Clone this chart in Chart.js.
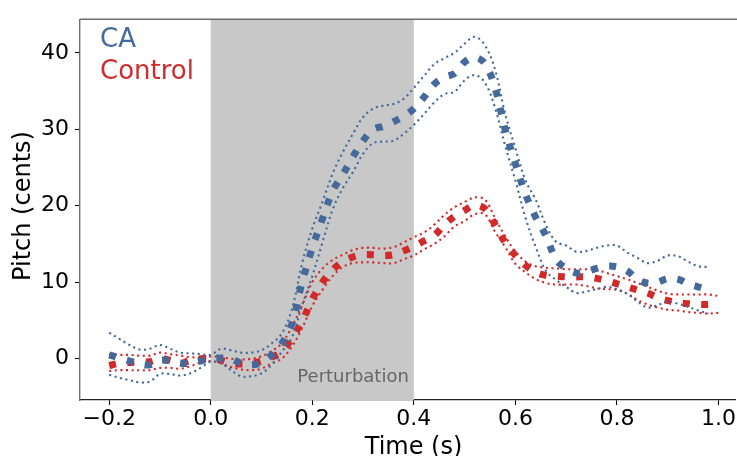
<!DOCTYPE html>
<html>
<head>
<meta charset="utf-8">
<script src="https://cdn.jsdelivr.net/npm/chart.js@4"></script>
<style>
  html, body { margin: 0; padding: 0; background: #fff; }
  canvas { display: block; }
</style>
</head>
<body>
<canvas id="pitchChart" width="737" height="456"></canvas>
<script>
// ========================================
// Pitch response to perturbation: CA vs Control
// ========================================

const times = [
  -0.20, -0.18, -0.16, -0.14, -0.12, -0.10, -0.08, -0.06, -0.04, -0.02,
   0.00,  0.02,  0.04,  0.06,  0.08,  0.10,  0.12,  0.14,  0.16,  0.18,
   0.20,  0.22,  0.24,  0.26,  0.28,  0.30,  0.32,  0.34,  0.36,  0.38,
   0.40,  0.42,  0.44,  0.46,  0.48,  0.50,  0.52,  0.54,  0.56,  0.58,
   0.60,  0.62,  0.64,  0.66,  0.68,  0.70,  0.72,  0.74,  0.76,  0.78,
   0.80,  0.82,  0.84,  0.86,  0.88,  0.90,  0.92,  0.94,  0.96,  0.98, 1.00
];

const caMean = [
   0.5,  0.1, -0.3, -0.7, -0.8, -0.2, -0.3, -0.6, -0.6, -0.3,
   0.0,  0.1,  0.0, -0.6, -0.8, -0.5,  0.5,  2.0,  4.6, 10.0,
  14.5, 18.3, 21.9, 24.1, 26.4, 28.5, 30.0, 30.4, 31.0, 31.7,
  32.7, 34.2, 35.9, 36.8, 37.3, 38.8, 39.4, 38.6, 35.4, 29.9,
  25.5, 21.5, 18.5, 16.1, 13.0, 11.8, 11.2, 11.4, 11.8, 12.1,
  12.0, 11.5, 10.4,  9.9, 10.0, 10.5, 10.4,  9.8,  9.4,  9.0, null
];
const caUpper = [
   3.4,  2.6,  1.8,  1.2,  1.3,  1.8,  1.3,  0.8,  0.7,  0.6,
   0.5,  1.3,  1.1,  0.8,  0.8,  1.1,  2.0,  3.3,  6.5, 12.5,
  17.0, 20.5, 24.2, 27.0, 29.4, 31.6, 32.7, 33.1, 33.3, 34.0,
  35.4, 37.0, 38.5, 39.3, 40.0, 41.2, 42.1, 41.0, 37.8, 32.0,
  27.5, 23.3, 20.8, 17.5, 15.3, 14.8, 14.0, 14.1, 14.5, 14.8,
  14.8, 13.9, 13.2, 12.5, 12.8, 13.5, 13.4, 12.7, 12.1, 12.0, null
];
const caLower = [
  -2.1, -2.5, -2.8, -3.1, -3.0, -2.0, -2.0, -2.2, -1.9, -1.2,
  -0.4, -0.6, -1.5, -2.3, -2.3, -1.9, -0.8,  0.9,  2.8,  7.0,
  10.8, 15.2, 19.5, 22.3, 24.4, 26.8, 28.2, 28.4, 28.5, 29.4,
  30.6, 32.0, 33.5, 34.6, 34.9, 36.4, 37.1, 36.1, 32.8, 27.8,
  23.3, 18.4, 14.6, 11.5, 10.3,  9.4,  8.6,  8.8,  9.1,  9.4,
   9.1,  8.5,  7.5,  6.7,  7.0,  7.5,  7.2,  6.8,  6.3,  5.9, null
];

const ctrlMean = [
  -0.9, -0.6, -0.5, -0.4, -0.4,  0.0, -0.2, -0.6, -0.2,  0.0,
   0.0, -0.2, -0.6, -0.7, -0.6, -0.3,  0.2,  0.9,  2.7,  4.9,
   7.8, 10.0, 11.6, 12.7, 13.3, 13.6, 13.6, 13.5, 13.6, 14.1,
  14.7, 15.4, 16.1, 17.5, 18.6, 19.4, 20.1, 19.6, 17.5, 15.2,
  13.5, 12.2, 11.3, 10.9, 10.8, 10.7, 10.7, 10.7, 10.5, 10.2,
   9.8,  9.4,  9.0,  8.6,  8.0,  7.6,  7.3,  7.2,  7.1,  7.1,  7.2
];
const ctrlUpper = [
   0.6,  0.5,  0.5,  0.4,  0.4,  0.8,  0.6,  0.4,  0.2,  0.2,
   0.3,  0.2,  0.0, -0.1,  0.0,  0.3,  1.0,  2.0,  4.2,  7.0,
  10.0, 11.8, 12.9, 13.6, 14.2, 14.5, 14.5, 14.4, 14.6, 15.2,
  15.9, 16.5, 17.5, 18.8, 19.8, 20.5, 21.1, 20.8, 18.4, 16.0,
  14.0, 12.7, 12.1, 11.9, 11.8, 11.7, 11.7, 11.7, 11.6, 11.2,
  10.8, 10.4,  9.9,  9.4,  8.9,  8.5,  8.4,  8.4,  8.4,  8.4,  8.2
];
const ctrlLower = [
  -1.6, -1.5, -1.5, -1.5, -1.5, -1.2, -1.2, -1.3, -1.0, -0.5,
  -0.3, -0.6, -1.1, -1.4, -1.5, -1.3, -0.6,  0.0,  1.6,  4.0,
   6.9,  9.0, 10.8, 12.0, 12.5, 12.6, 12.6, 12.5, 12.5, 13.0,
  13.5, 14.3, 15.0, 16.0, 17.3, 18.0, 18.9, 18.9, 16.6, 14.6,
  12.4, 11.3, 10.4,  9.9,  9.7,  9.7,  9.7,  9.5,  9.2,  9.1,
   9.0,  8.5,  7.7,  7.1,  6.7,  6.4,  6.3,  6.1,  6.0,  5.9,  6.0
];

const xTicks = [-0.2, 0.0, 0.2, 0.4, 0.6, 0.8, 1.0];
const yTicks = [0, 10, 20, 30, 40];
const perturbWindow = [0.0, 0.4];

const CA_COLOR = '#44699a';
const CTRL_COLOR = '#d12a2b';
const FONT = "'DejaVu Sans', sans-serif";

function pts(values) {
  return times.map((t, i) => ({ x: t, y: values[i] }));
}

function meanLine(label, values, color) {
  return {
    label, data: pts(values), borderColor: color, borderWidth: 7,
    borderDash: [7, 11.4], borderCapStyle: 'butt', pointRadius: 0,
    tension: 0.35, fill: false, spanGaps: false
  };
}

function boundLine(label, values, color) {
  return {
    label, data: pts(values), borderColor: color, borderWidth: 2.1,
    borderDash: [2.1, 3.5], borderCapStyle: 'butt', pointRadius: 0,
    tension: 0.35, fill: false, spanGaps: false
  };
}

// Shaded perturbation window + label, legend text, axis titles, top spine
const decorations = {
  id: 'decorations',
  beforeDatasetsDraw(chart) {
    const { ctx, chartArea: a, scales: { x } } = chart;
    const x0 = x.getPixelForValue(perturbWindow[0]);
    const x1 = x.getPixelForValue(perturbWindow[1]);
    ctx.save();
    ctx.fillStyle = '#c8c8c8';
    ctx.fillRect(x0, a.top, x1 - x0, a.bottom - a.top);
    ctx.fillStyle = '#666666';
    ctx.font = '18px ' + FONT;
    ctx.textAlign = 'right';
    ctx.textBaseline = 'alphabetic';
    ctx.fillText('Perturbation', x1 - 5, 382);
    ctx.restore();
  },
  afterDraw(chart) {
    const { ctx, chartArea: a } = chart;
    ctx.save();
    ctx.strokeStyle = '#6e6e6e';
    ctx.lineWidth = 1.4;
    ctx.beginPath();
    ctx.moveTo(a.left, a.top);
    ctx.lineTo(chart.width, a.top);
    ctx.stroke();

    ctx.font = '26px ' + FONT;
    ctx.textAlign = 'left';
    ctx.textBaseline = 'alphabetic';
    ctx.fillStyle = CA_COLOR;
    ctx.fillText('CA', 100, 47);
    ctx.fillStyle = CTRL_COLOR;
    ctx.fillText('Control', 100, 79);

    ctx.fillStyle = '#000';
    ctx.font = '24px ' + FONT;
    ctx.textAlign = 'center';
    ctx.fillText('Time (s)', 413.5, 454);
    ctx.translate(24, 206);
    ctx.rotate(-Math.PI / 2);
    ctx.textBaseline = 'middle';
    ctx.fillText('Pitch (cents)', 0, 0);
    ctx.restore();
  }
};

const axisFont = { family: FONT, size: 22 };

new Chart(document.getElementById('pitchChart'), {
  type: 'line',
  data: {
    datasets: [
      meanLine('CA', caMean, CA_COLOR),
      boundLine('CA upper', caUpper, CA_COLOR),
      boundLine('CA lower', caLower, CA_COLOR),
      meanLine('Control', ctrlMean, CTRL_COLOR),
      boundLine('Control upper', ctrlUpper, CTRL_COLOR),
      boundLine('Control lower', ctrlLower, CTRL_COLOR)
    ]
  },
  options: {
    responsive: false,
    animation: false,
    layout: { padding: { top: 13, right: 0, left: 0, bottom: 0 } },
    plugins: { legend: { display: false }, tooltip: { enabled: false } },
    scales: {
      x: {
        type: 'linear', min: -0.2575, max: 1.034,
        afterBuildTicks: s => { s.ticks = xTicks.map(v => ({ value: v })); },
        afterFit: s => { s.height = 56; },
        ticks: {
          color: '#000', font: axisFont, padding: 1, maxRotation: 0,
          callback: v => (v < 0 ? '\u2212' : '') + Math.abs(v).toFixed(1)
        },
        grid: { drawOnChartArea: false, drawTicks: true, tickLength: 5, tickColor: '#000', tickWidth: 1.1 },
        border: { display: true, color: '#222', width: 1.3 }
      },
      y: {
        type: 'linear', min: -5.4, max: 44.4,
        afterBuildTicks: s => { s.ticks = yTicks.map(v => ({ value: v })); },
        afterFit: s => { s.width = 80; },
        ticks: {
          color: '#000', font: axisFont, padding: 6,
          callback: v => String(v)
        },
        grid: { drawOnChartArea: false, drawTicks: true, tickLength: 5, tickColor: '#000', tickWidth: 1.1 },
        border: { display: true, color: '#6e6e6e', width: 1.4 }
      }
    }
  },
  plugins: [decorations]
});
</script>
</body>
</html>
